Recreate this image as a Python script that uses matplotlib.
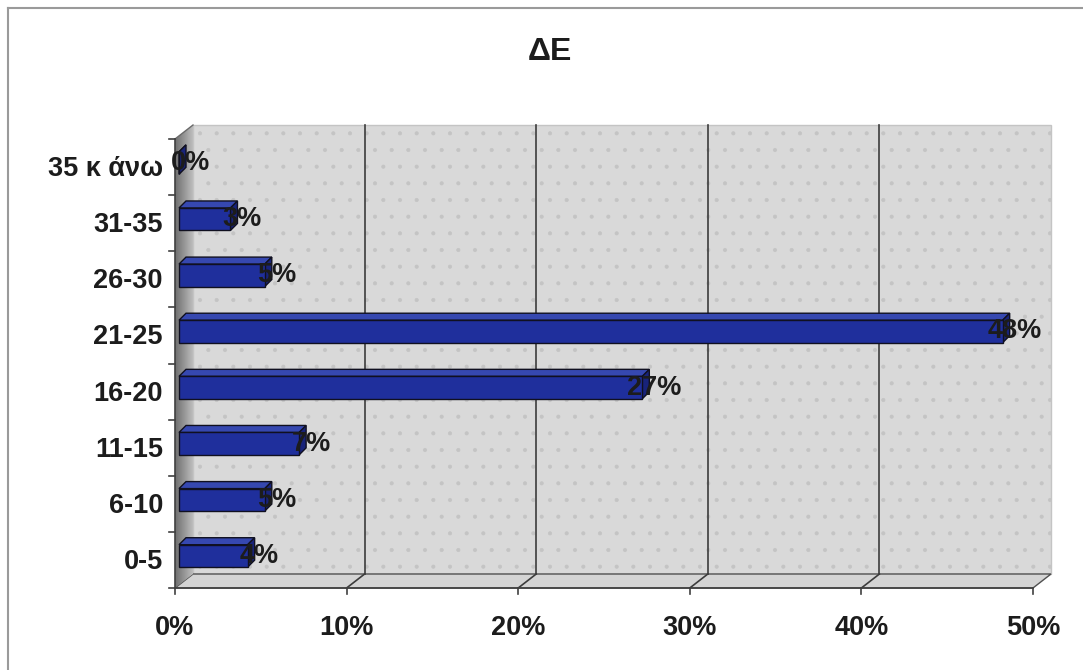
import matplotlib.pyplot as plt
import numpy as np
from matplotlib.patches import Polygon, Rectangle
from matplotlib.colors import LinearSegmentedColormap

# age groups and their shares
categories = ['0-5', '6-10', '11-15', '16-20', '21-25', '26-30', '31-35', '35 κ άνω']
shares = [0.04, 0.05, 0.07, 0.27, 0.48, 0.05, 0.03, 0.00]
x_ticks = [0.0, 0.1, 0.2, 0.3, 0.4, 0.5]
x_tick_labels = ['0%', '10%', '20%', '30%', '40%', '50%']
title = 'ΔΕ'

W, H = 1083, 670
plt.rcParams['font.family'] = ['Liberation Sans', 'DejaVu Sans']
plt.rcParams['hatch.color'] = '#e6e0c2'
plt.rcParams['hatch.linewidth'] = 0.5
text_color = '#1c1c1c'

fig = plt.figure(figsize=(W / 100, H / 100), dpi=100)
fig.patch.set_facecolor('white')

# thin frame lines along the top and left
fig.add_artist(plt.Line2D([8 / W, 1], [1 - 8 / H, 1 - 8 / H], color='#9a9a9a', lw=1.5))
fig.add_artist(plt.Line2D([8 / W, 8 / W], [0, 1 - 8 / H], color='#9a9a9a', lw=1.5))

# front plane of the 3d box
ax = fig.add_axes([175 / W, (H - 588) / H, 858 / W, (588 - 139) / H])
ax.set_xlim(0, 0.5)
ax.set_ylim(-0.5, len(categories) - 0.5)
ax.axis('off')

bbox = ax.get_window_extent()
ux = 0.5 / bbox.width
uy = len(categories) / bbox.height


def px(dx, dy):
    return dx * ux, dy * uy


y_lo, y_hi = -0.5, len(categories) - 0.5
ddx, ddy = px(18, 14)

# back wall
wall = Rectangle((ddx, y_lo + ddy), 0.5, y_hi - y_lo, facecolor='#d9d9d9',
                 edgecolor='#c4c4c4', lw=1, hatch='.', clip_on=False, zorder=1)
ax.add_patch(wall)

# floor
floor = Polygon([(0, y_lo), (0.5, y_lo), (0.5 + ddx, y_lo + ddy), (ddx, y_lo + ddy)],
                closed=True, facecolor='#d4d4d4', edgecolor='#505050', lw=1,
                clip_on=False, zorder=1)
ax.add_patch(floor)

# left wall, shaded in thin strips from dark to light
side_cmap = LinearSegmentedColormap.from_list('side', ['#6e6e6e', '#949494', '#bdbdbd'])
n_strips = 18
for k in range(n_strips):
    a, b = k / n_strips, (k + 1) / n_strips
    strip = Polygon([(a * ddx, y_lo + a * ddy), (b * ddx, y_lo + b * ddy),
                     (b * ddx, y_hi + b * ddy), (a * ddx, y_hi + a * ddy)],
                    closed=True, facecolor=side_cmap((k + 0.5) / n_strips),
                    edgecolor='none', lw=0, clip_on=False, zorder=2)
    ax.add_patch(strip)
ax.plot([0, ddx], [y_hi, y_hi + ddy], color='#6a6a6a', lw=1, clip_on=False, zorder=3)

# gridlines on wall and floor
for t in x_ticks[1:-1]:
    ax.plot([t + ddx, t + ddx], [y_lo + ddy, y_hi + ddy], color='#3c3c3c', lw=1.2,
            clip_on=False, zorder=2)
    ax.plot([t, t + ddx], [y_lo, y_lo + ddy], color='#3c3c3c', lw=1.2,
            clip_on=False, zorder=2)
ax.plot([0, 0.5], [y_lo, y_lo], color='#404040', lw=1.2, clip_on=False, zorder=4)
ax.plot([0, 0], [y_lo, y_hi], color='#404040', lw=1.2, clip_on=False, zorder=4)

# tick marks and labels
tx, ty = px(6, 6)
for t, lab in zip(x_ticks, x_tick_labels):
    ax.plot([t, t], [y_lo, y_lo - ty], color='#404040', lw=1.2, clip_on=False, zorder=4)
    ax.text(t, y_lo - px(0, 40)[1], lab, ha='center', va='center', fontsize=19.5,
            fontweight='bold', color=text_color)
for k in range(len(categories) + 1):
    ax.plot([-tx, 0], [y_lo + k, y_lo + k], color='#404040', lw=1.2, clip_on=False,
            zorder=4)
for i, name in enumerate(categories):
    ax.text(-px(12, 0)[0], i - px(0, 2)[1], name, ha='right', va='center',
            fontsize=19.5, fontweight='bold', color=text_color)

# bars drawn as small boxes
fx, fy = px(4, 4)
bdx, bdy = px(7, 7)
half = 0.2
for i, v in enumerate(shares):
    x0, x1 = fx, v + fx
    y0, y1 = i - half + fy, i + half + fy
    top = Polygon([(x0, y1), (x1, y1), (x1 + bdx, y1 + bdy), (x0 + bdx, y1 + bdy)],
                  closed=True, facecolor='#3648b0', edgecolor='#101020', lw=1,
                  clip_on=False, zorder=5)
    end = Polygon([(x1, y0), (x1 + bdx, y0 + bdy), (x1 + bdx, y1 + bdy), (x1, y1)],
                  closed=True, facecolor='#18237a', edgecolor='#101020', lw=1,
                  clip_on=False, zorder=5)
    front = Rectangle((x0, y0), v, y1 - y0, facecolor='#1f2f9c', edgecolor='#101020',
                      lw=1, clip_on=False, zorder=6)
    ax.add_patch(top)
    ax.add_patch(end)
    ax.add_patch(front)
    ax.text(x1 + px(12, 0)[0], i + fy, f'{v * 100:.0f}%', ha='center', va='center',
            fontsize=19.5, fontweight='bold', color=text_color, zorder=7)

fig.text(550 / W, 1 - 52 / H, title, ha='center', va='center', fontsize=23,
         fontweight='bold', color=text_color)

fig.savefig('out.png', dpi=100)
